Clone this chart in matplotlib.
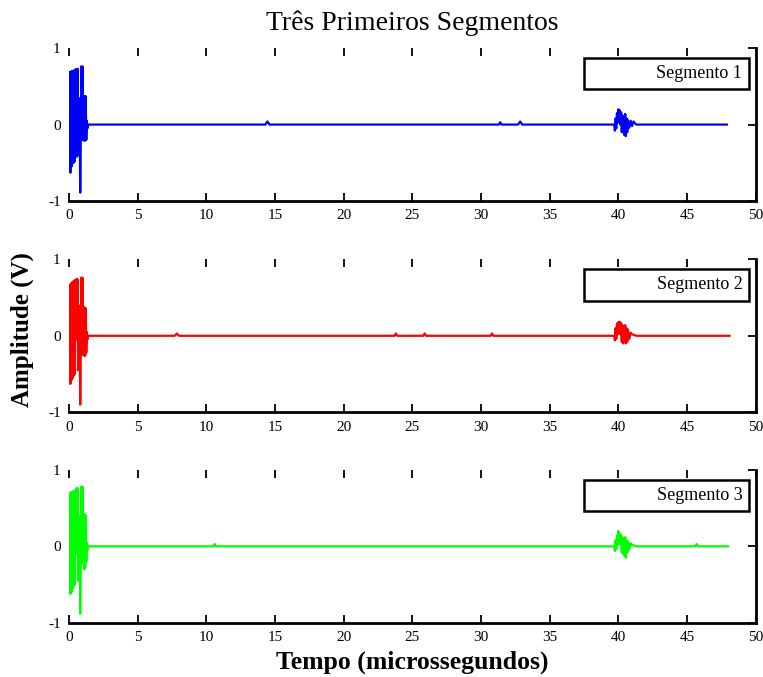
import matplotlib
matplotlib.use("Agg")
import matplotlib.pyplot as plt

plt.rcParams['font.family'] = ['Liberation Serif', 'DejaVu Serif']
plt.rcParams['axes.unicode_minus'] = False

# time grid of the initial burst (microseconds), shared by the three segments
burst_t = [0.02, 0.06, 0.10, 0.14, 0.18, 0.22, 0.26, 0.30, 0.34, 0.38, 0.42, 0.46,
           0.50, 0.54, 0.58, 0.62, 0.66, 0.70, 0.74, 0.78, 0.82, 0.86, 0.90, 0.94,
           0.98, 1.02, 1.06, 1.10, 1.14, 1.18, 1.22, 1.26, 1.30, 1.34, 1.40]

seg1_burst = [0.0, 0.69, -0.63, 0.69, -0.55, 0.70, -0.50, 0.70, -0.50, 0.71, -0.48, 0.72,
              -0.05, 0.72, -0.42, 0.73, -0.40, 0.35, -0.38, -0.10, -0.89, -0.20, 0.76, -0.20,
              0.76, -0.20, 0.37, -0.21, 0.37, -0.21, 0.37, -0.20, 0.05, -0.05, 0.0]
seg2_burst = [0.0, 0.66, -0.63, 0.68, -0.58, 0.70, -0.55, 0.71, -0.52, 0.72, -0.50, 0.73,
              -0.05, 0.74, -0.02, 0.74, -0.45, 0.40, -0.40, -0.10, -0.90, -0.25, 0.76, -0.25,
              0.76, -0.24, 0.37, -0.26, 0.37, -0.26, 0.36, -0.22, 0.05, -0.05, 0.0]
seg3_burst = [0.0, 0.70, -0.62, 0.70, -0.60, 0.71, -0.55, 0.72, -0.52, 0.72, -0.50, 0.73,
              -0.10, 0.76, -0.05, 0.76, -0.45, 0.40, -0.42, -0.10, -0.88, -0.22, 0.78, -0.22,
              0.78, -0.22, 0.42, -0.30, 0.42, -0.28, 0.40, -0.20, 0.05, -0.05, 0.0]

# remainder of each segment: small blips and the echo near 40 us
seg1_tail_t = [1.45, 14.3, 14.45, 14.6, 31.3, 31.4, 31.5, 32.7, 32.85, 33.0,
               39.7, 39.75, 39.8, 39.85, 39.9, 39.95, 40.0, 40.05, 40.1, 40.15, 40.2,
               40.25, 40.3, 40.35, 40.4, 40.45, 40.5, 40.55, 40.6, 40.65, 40.7,
               40.8, 40.9, 41.0, 41.1, 41.3, 47.9]
seg1_tail_v = [0.0, 0.0, 0.04, 0.0, 0.0, 0.03, 0.0, 0.0, 0.04, 0.0,
               0.0, -0.08, 0.08, -0.05, 0.15, 0.02, 0.20, 0.05, 0.19, 0.00, 0.16,
               -0.10, 0.12, -0.08, 0.10, -0.14, 0.14, -0.15, 0.08, -0.10, 0.06,
               -0.04, 0.05, -0.02, 0.04, 0.0, 0.0]

seg2_tail_t = [1.45, 7.7, 7.85, 8.0, 23.7, 23.8, 23.9, 25.8, 25.9, 26.0, 30.7, 30.8, 30.9,
               39.7, 39.75, 39.8, 39.85, 39.9, 39.95, 40.0, 40.05, 40.1, 40.15, 40.2,
               40.25, 40.3, 40.35, 40.4, 40.45, 40.5, 40.55, 40.6, 40.65, 40.7,
               40.8, 40.9, 41.0, 41.3, 48.1]
seg2_tail_v = [0.0, 0.0, 0.03, 0.0, 0.0, 0.03, 0.0, 0.0, 0.03, 0.0, 0.0, 0.03, 0.0,
               0.0, -0.06, 0.10, -0.04, 0.16, 0.02, 0.18, 0.04, 0.18, 0.02, 0.17,
               -0.08, 0.14, -0.10, 0.12, -0.06, 0.14, -0.10, 0.10, -0.08, 0.08,
               -0.04, 0.04, 0.02, 0.0, 0.0]

seg3_tail_t = [1.45, 10.5, 10.6, 10.7,
               39.7, 39.75, 39.8, 39.85, 39.9, 39.95, 40.0, 40.05, 40.1, 40.15, 40.2,
               40.25, 40.3, 40.35, 40.4, 40.45, 40.5, 40.55, 40.6, 40.65, 40.7,
               40.8, 40.9, 41.0, 41.3, 45.6, 45.7, 45.8, 48.0]
seg3_tail_v = [0.0, 0.0, 0.03, 0.0,
               0.0, -0.06, 0.08, -0.04, 0.14, 0.02, 0.20, 0.06, 0.17, 0.02, 0.15,
               -0.08, 0.12, -0.10, 0.08, -0.12, 0.12, -0.15, 0.08, -0.08, 0.06,
               -0.04, 0.04, 0.02, 0.0, 0.0, 0.03, 0.0, 0.0]

segments = [
    ("Segmento 1", seg1_burst, seg1_tail_t, seg1_tail_v, "#0000ff"),
    ("Segmento 2", seg2_burst, seg2_tail_t, seg2_tail_v, "#ff0000"),
    ("Segmento 3", seg3_burst, seg3_tail_t, seg3_tail_v, "#00ff00"),
]

x_ticks = [0, 5, 10, 15, 20, 25, 30, 35, 40, 45, 50]
y_ticks = [-1, 0, 1]

fig = plt.figure(figsize=(7.63, 6.77), dpi=100)
bottoms = [0.703, 0.391, 0.080]

for (label, burst_v, tail_t, tail_v, color), b in zip(segments, bottoms):
    ax = fig.add_axes([0.0904, b, 0.900, 0.226])
    t = burst_t + tail_t
    v = burst_v + tail_v
    ax.plot(t, v, color=color, lw=1.6, label=label)
    ax.set_xlim(0, 50)
    ax.set_ylim(-1, 1)
    ax.set_xticks(x_ticks)
    ax.set_yticks(y_ticks)
    ax.tick_params(direction='in', top=True, right=True, left=False,
                   length=6, width=1.3, labelsize=11, pad=6)
    ax.spines['top'].set_visible(False)
    ax.spines['left'].set_visible(False)
    ax.spines['bottom'].set_linewidth(2)
    ax.spines['right'].set_linewidth(2)
    # legend box: invisible handle widens the frame so the text sits on the right
    leg = ax.legend(loc='upper right', bbox_to_anchor=(0.991, 0.935),
                    borderaxespad=0, handlelength=3.6, handletextpad=0,
                    fancybox=False, edgecolor='black', framealpha=1,
                    fontsize=13, borderpad=0.4)
    leg.get_frame().set_linewidth(1.8)
    for h in leg.legend_handles:
        h.set_visible(False)

fig.text(412 / 763, 1 - 23 / 677, "Três Primeiros Segmentos", ha='center', va='center',
         fontsize=20)
fig.text(22 / 763, 1 - 330 / 677, "Amplitude (V)", ha='center', va='center',
         rotation=90, fontsize=18, fontweight='bold')
fig.text(412 / 763, 1 - 662 / 677, "Tempo (microssegundos)", ha='center', va='center',
         fontsize=18.5, fontweight='bold')

fig.savefig("out.png", dpi=100)
